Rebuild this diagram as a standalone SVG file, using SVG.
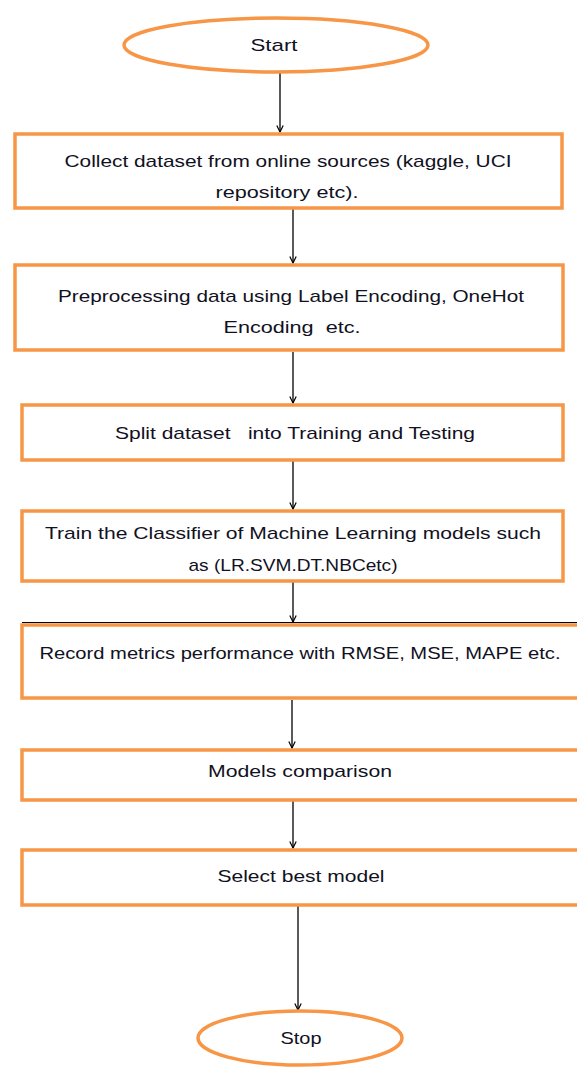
<svg xmlns="http://www.w3.org/2000/svg" width="577" height="1068" viewBox="0 0 577 1068">
<style>
.n{fill:#fff;stroke:#F79646;stroke-width:3.5}
.t{font-family:"Liberation Sans",Arial,sans-serif;font-size:17px;fill:#111122;text-anchor:middle;white-space:pre}
.c{stroke:#000;stroke-width:1.3;fill:none;marker-end:url(#ah)}
</style>
<defs>
<marker id="ah" viewBox="0 0 10 10" refX="9" refY="5" markerWidth="8" markerHeight="8" markerUnits="userSpaceOnUse" orient="auto">
<path d="M1,1 L9,5 L1,9" fill="none" stroke="#000" stroke-width="1.5"/>
</marker>
<clipPath id="cp1"><rect x="17" y="136" width="543" height="65"/></clipPath>
<clipPath id="cp4"><rect x="24" y="513" width="537" height="61"/></clipPath>
</defs>
<rect width="577" height="1068" fill="#fff"/>
<g id="connectors">
<line class="c" x1="280" y1="73" x2="280" y2="132"/>
<line class="c" x1="293" y1="209" x2="293" y2="263"/>
<line class="c" x1="293" y1="352" x2="293" y2="403"/>
<line class="c" x1="293" y1="461" x2="293" y2="509"/>
<line class="c" x1="293" y1="582" x2="293" y2="622"/>
<line class="c" x1="292" y1="700" x2="292" y2="748"/>
<line class="c" x1="293" y1="801" x2="293" y2="848"/>
<line class="c" x1="298" y1="906" x2="298" y2="1010"/>
</g>
<g id="start">
<ellipse class="n" cx="276" cy="45" rx="152" ry="27"/>
<text class="t" x="274" y="51" textLength="47" lengthAdjust="spacingAndGlyphs">Start</text>
</g>
<g id="collect">
<rect class="n" x="15" y="134" width="547" height="74"/>
<text class="t" x="288" y="167" textLength="447" lengthAdjust="spacingAndGlyphs">Collect dataset from online sources (kaggle, UCI</text>
<g clip-path="url(#cp1)"><text class="t" x="287" y="198" textLength="143" lengthAdjust="spacingAndGlyphs">repository etc).</text></g>
</g>
<g id="preprocess">
<rect class="n" x="15" y="265" width="548" height="85"/>
<text class="t" x="291" y="302" textLength="466" lengthAdjust="spacingAndGlyphs">Preprocessing data using Label Encoding, OneHot</text>
<text class="t" x="292" y="333" textLength="137" lengthAdjust="spacingAndGlyphs" xml:space="preserve">Encoding  etc.</text>
</g>
<g id="split">
<rect class="n" x="22" y="405" width="541" height="55"/>
<text class="t" x="295" y="439" textLength="360" lengthAdjust="spacingAndGlyphs" xml:space="preserve">Split dataset   into Training and Testing</text>
</g>
<g id="train">
<rect class="n" x="22" y="511" width="541" height="70"/>
<text class="t" x="293" y="539" textLength="496" lengthAdjust="spacingAndGlyphs">Train the Classifier of Machine Learning models such</text>
<g clip-path="url(#cp4)"><text class="t" x="293" y="571" textLength="209" lengthAdjust="spacingAndGlyphs">as (LR.SVM.DT.NBCetc)</text></g>
</g>
<g id="record">
<rect class="n" x="22" y="625" width="560" height="73"/>
<line x1="22" y1="622.5" x2="577" y2="622.5" stroke="#000" stroke-width="1"/>
<text class="t" x="300" y="659" textLength="521" lengthAdjust="spacingAndGlyphs">Record metrics performance with RMSE, MSE, MAPE etc.</text>
</g>
<g id="compare">
<rect class="n" x="22" y="750" width="560" height="50"/>
<text class="t" x="300" y="777" textLength="184" lengthAdjust="spacingAndGlyphs">Models comparison</text>
</g>
<g id="select">
<rect class="n" x="22" y="850" width="560" height="55"/>
<text class="t" x="301" y="882" textLength="167" lengthAdjust="spacingAndGlyphs">Select best model</text>
</g>
<g id="stop">
<ellipse class="n" cx="300" cy="1038" rx="102" ry="27"/>
<text class="t" x="301" y="1044" textLength="41" lengthAdjust="spacingAndGlyphs">Stop</text>
</g>
</svg>
